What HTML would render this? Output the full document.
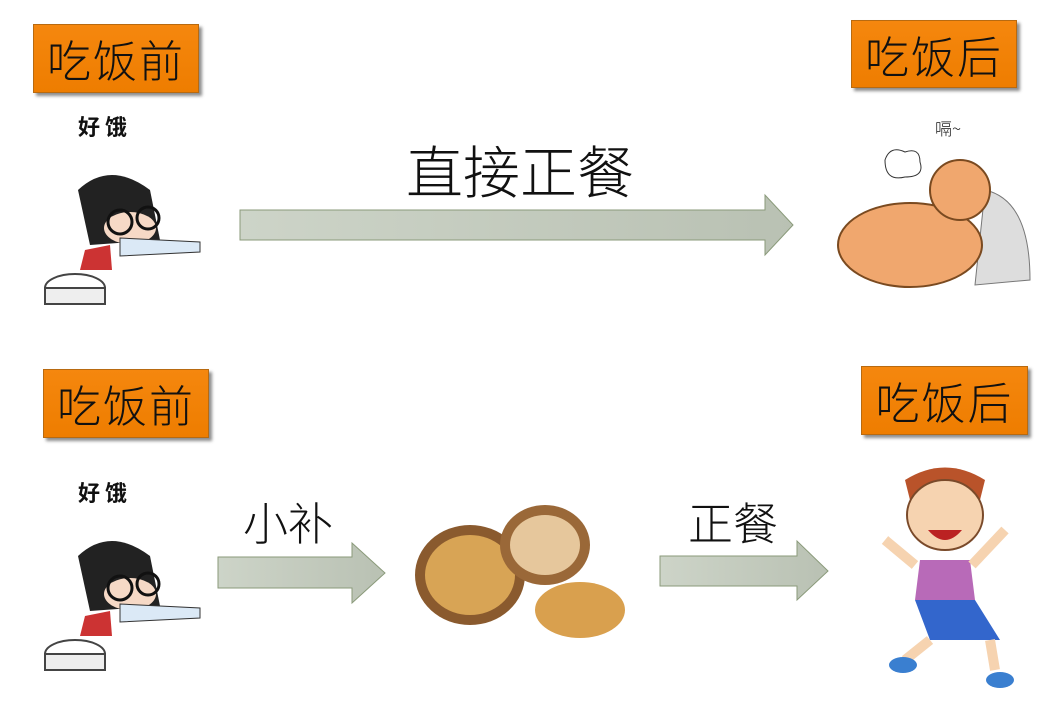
<!DOCTYPE html>
<html><head><meta charset="utf-8">
<style>
body{margin:0;width:1057px;height:702px;background:#fff;position:relative;overflow:hidden;font-family:"Liberation Sans","Noto Sans CJK SC",sans-serif}
.lb{position:absolute;background:linear-gradient(#f5870e,#ee7d00);border:1px solid #b86a10;box-shadow:3px 3px 3px rgba(0,0,0,.45);font-size:44px;color:#111;text-align:center;line-height:66px;font-family:"Noto Sans CJK SC",sans-serif;font-weight:300;letter-spacing:2px}
.t{position:absolute;font-family:"Noto Sans CJK SC",sans-serif;font-weight:300;color:#111;white-space:nowrap}
svg{position:absolute;left:0;top:0}
</style></head><body>
<div class="lb" style="left:33px;top:24px;width:164px;height:67px">吃饭前</div>
<div class="lb" style="left:851px;top:20px;width:164px;height:66px">吃饭后</div>
<div class="lb" style="left:43px;top:369px;width:164px;height:67px">吃饭前</div>
<div class="lb" style="left:861px;top:366px;width:165px;height:67px">吃饭后</div>
<div class="t" style="left:406px;top:128px;font-size:57px">直接正餐</div>
<div class="t" style="left:243px;top:488px;font-size:45px">小补</div>
<div class="t" style="left:688px;top:488px;font-size:45px">正餐</div>
<div class="t" style="left:78px;top:110px;font-size:22px;font-weight:bold">好 饿</div>
<div class="t" style="left:78px;top:476px;font-size:22px;font-weight:bold">好 饿</div>
<div class="t" style="left:935px;top:115px;font-size:17px">嗝~</div>
<svg width="1057" height="702">
<defs><linearGradient id="g" x1="0" x2="1"><stop offset="0" stop-color="#cdd4c8"/><stop offset="1" stop-color="#b9c1b3"/></linearGradient></defs>
<g fill="url(#g)" stroke="#8a9a7a" stroke-width="1">
<polygon points="240,210 765,210 765,195 793,225 765,255 765,240 240,240"/>
<polygon points="218,557 352,557 352,543 385,573 352,603 352,588 218,588"/>
<polygon points="660,556 797,556 797,541 828,571 797,600 797,586 660,586"/>
</g>
<g id="boy">
<ellipse cx="75" cy="288" rx="30" ry="14" fill="#fff" stroke="#444" stroke-width="2"/>
<rect x="45" y="288" width="60" height="16" fill="#eee" stroke="#444" stroke-width="2"/>
<path d="M78 190 Q110 160 150 190 L160 240 L90 245 Z" fill="#222"/>
<ellipse cx="130" cy="228" rx="26" ry="16" fill="#f6d9c6"/>
<circle cx="120" cy="222" r="12" fill="none" stroke="#111" stroke-width="3"/>
<circle cx="148" cy="218" r="11" fill="none" stroke="#111" stroke-width="3"/>
<path d="M120 238 L200 242 L200 252 L120 256 Z" fill="#dbe9f6" stroke="#333"/>
<path d="M85 250 L110 245 L112 270 L80 270 Z" fill="#c33"/>
</g>
<use href="#boy" transform="translate(0,366)"/>
<path d="M985 190 Q1030 200 1030 280 L975 285 Z" fill="#ddd" stroke="#777"/>
<ellipse cx="910" cy="245" rx="72" ry="42" fill="#f0a76e" stroke="#7a4a20" stroke-width="2"/>
<circle cx="960" cy="190" r="30" fill="#f0a76e" stroke="#7a4a20" stroke-width="2"/>
<path d="M885 160 q5 -15 20 -8 q15 -5 15 10 q5 15 -15 15 q-20 5 -20 -17z" fill="#fff" stroke="#333"/>
<ellipse cx="470" cy="575" rx="55" ry="50" fill="#8a5a2e"/>
<ellipse cx="470" cy="575" rx="45" ry="40" fill="#d8a455"/>
<ellipse cx="545" cy="545" rx="45" ry="40" fill="#9a6838"/>
<ellipse cx="545" cy="545" rx="35" ry="30" fill="#e6c79c"/>
<ellipse cx="580" cy="610" rx="45" ry="28" fill="#d9a04e"/>
<path d="M905 480 Q945 455 985 480 L980 500 L910 500 Z" fill="#b9532a"/>
<ellipse cx="945" cy="515" rx="38" ry="35" fill="#f6d3b0" stroke="#7a4a2a" stroke-width="2"/>
<path d="M928 530 Q945 550 962 530 Z" fill="#b22"/>
<path d="M920 560 L970 560 L975 600 L915 600 Z" fill="#b86ab8"/>
<path d="M915 600 L975 600 L1000 640 L930 640 Z" fill="#3366cc"/>
<path d="M915 565 L885 540" stroke="#f6d3b0" stroke-width="10"/>
<path d="M972 565 L1005 530" stroke="#f6d3b0" stroke-width="10"/>
<path d="M930 640 L905 660" stroke="#f6d3b0" stroke-width="10"/>
<path d="M990 640 L995 670" stroke="#f6d3b0" stroke-width="10"/>
<ellipse cx="903" cy="665" rx="14" ry="8" fill="#3a7fd0"/>
<ellipse cx="1000" cy="680" rx="14" ry="8" fill="#3a7fd0"/>
</svg>
</body></html>
